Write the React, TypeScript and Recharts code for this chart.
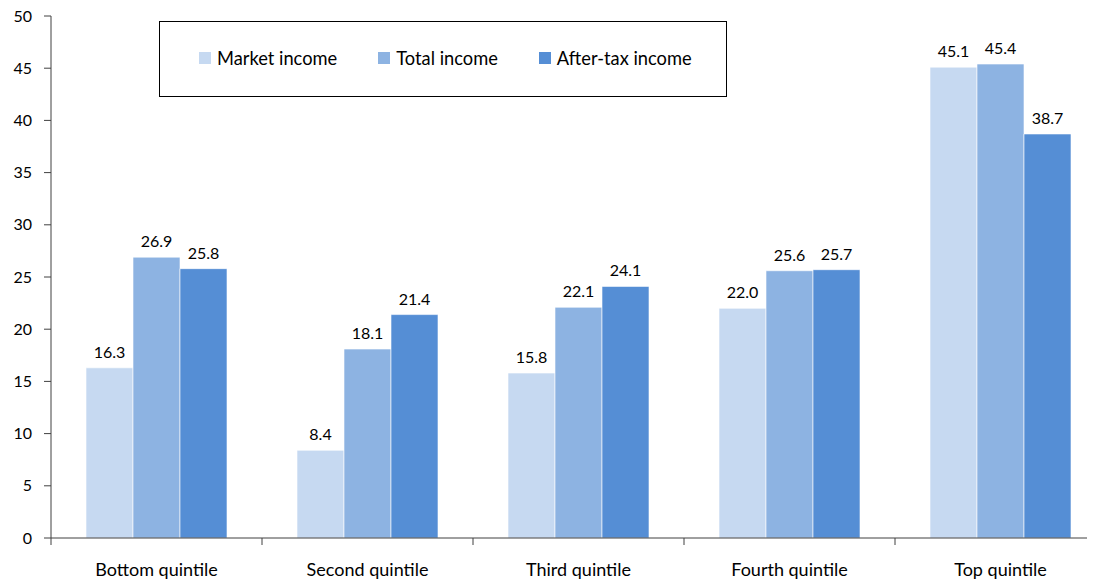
import React from "react";
import { BarChart, Bar, XAxis, YAxis, Legend, LabelList } from "recharts";

// Income shares by quintile (percent)
const quintiles = ["Bottom quintile", "Second quintile", "Third quintile", "Fourth quintile", "Top quintile"];
const marketIncome = [16.3, 8.4, 15.8, 22.0, 45.1];
const totalIncome = [26.9, 18.1, 22.1, 25.6, 45.4];
const afterTaxIncome = [25.8, 21.4, 24.1, 25.7, 38.7];
const yTicks = [0, 5, 10, 15, 20, 25, 30, 35, 40, 45, 50];

const seriesNames = ["Market income", "Total income", "After-tax income"];
const seriesColors = ["#C6D9F1", "#8DB3E2", "#558ED5"];

const data = quintiles.map((q, i) => ({
  quintile: q,
  market: marketIncome[i],
  total: totalIncome[i],
  afterTax: afterTaxIncome[i],
}));

const FONT = "Lato, 'Noto Sans', sans-serif";
const CHART_W = 1100;
const CHART_H = 581;
const MARGIN = { top: 16, right: 2, left: 0, bottom: 0 };
const Y_AXIS_W = 43;
const X_AXIS_H = 43;
const PLOT_LEFT = MARGIN.left + Y_AXIS_W;
const PLOT_RIGHT = CHART_W - MARGIN.right;
const PLOT_BOTTOM = CHART_H - MARGIN.bottom - X_AXIS_H;
const BAND = (PLOT_RIGHT - PLOT_LEFT) / quintiles.length;
const AXIS_COLOR = "#404040";

// Category label at the band centre, with tick marks at the band boundaries
const CategoryTick = (props: any) => {
  const { x, payload, index } = props;
  const left = x - BAND / 2;
  const right = x + BAND / 2;
  return (
    <g>
      <line x1={left} y1={PLOT_BOTTOM} x2={left} y2={PLOT_BOTTOM + 7} stroke={AXIS_COLOR} strokeWidth={1} />
      {index === quintiles.length - 1 && (
        <line x1={right} y1={PLOT_BOTTOM} x2={right} y2={PLOT_BOTTOM + 7} stroke={AXIS_COLOR} strokeWidth={1} />
      )}
      <text x={x} y={PLOT_BOTTOM + 38} textAnchor="middle" fill="#000" fontSize={18} fontFamily={FONT}>
        {payload.value}
      </text>
    </g>
  );
};

const LegendBox = () => (
  <div
    style={{
      boxSizing: "border-box",
      width: 568,
      height: 76,
      border: "1px solid #000",
      background: "#fff",
      display: "flex",
      alignItems: "center",
      paddingLeft: 39,
      paddingBottom: 2,
      fontFamily: FONT,
      fontSize: 18.3,
      color: "#000",
      whiteSpace: "nowrap",
    }}
  >
    {seriesNames.map((name, i) => (
      <div key={name} style={{ display: "flex", alignItems: "center", marginRight: 41 }}>
        <span style={{ display: "inline-block", width: 12, height: 12, background: seriesColors[i], marginRight: 6 }} />
        <span>{name}</span>
      </div>
    ))}
  </div>
);

const labelStyle = { fontSize: 16, fontFamily: FONT, fill: "#000" };
const fmt = (v: any) => Number(v).toFixed(1);

export default function App() {
  return (
    <div style={{ width: 1087, height: CHART_H, marginTop: -8, overflow: "hidden", position: "relative" }}>
      <BarChart
        width={CHART_W}
        height={CHART_H}
        data={data}
        margin={MARGIN}
        barGap={0}
        barCategoryGap={35}
      >
        <XAxis
          dataKey="quintile"
          height={X_AXIS_H}
          tickLine={false}
          axisLine={{ stroke: AXIS_COLOR, strokeWidth: 1 }}
          tick={<CategoryTick />}
          interval={0}
        />
        <YAxis
          width={Y_AXIS_W}
          domain={[0, 50]}
          ticks={yTicks}
          interval={0}
          tickSize={7}
          tickMargin={12}
          axisLine={{ stroke: AXIS_COLOR, strokeWidth: 1 }}
          tickLine={{ stroke: AXIS_COLOR, strokeWidth: 1 }}
          tick={{ fontSize: 16, fontFamily: FONT, fill: "#000" }}
        />
        <Legend
          layout="horizontal"
          align="center"
          verticalAlign="middle"
          wrapperStyle={{ left: 151, top: 21, width: 568, height: 76 }}
          content={<LegendBox />}
        />
        <Bar dataKey="market" name={seriesNames[0]} fill={seriesColors[0]} stroke="#ffffff" strokeWidth={0.6} isAnimationActive={false}>
          <LabelList dataKey="market" position="top" offset={10} formatter={fmt} style={labelStyle} />
        </Bar>
        <Bar dataKey="total" name={seriesNames[1]} fill={seriesColors[1]} stroke="#ffffff" strokeWidth={0.6} isAnimationActive={false}>
          <LabelList dataKey="total" position="top" offset={10} formatter={fmt} style={labelStyle} />
        </Bar>
        <Bar dataKey="afterTax" name={seriesNames[2]} fill={seriesColors[2]} stroke="#ffffff" strokeWidth={0.6} isAnimationActive={false}>
          <LabelList dataKey="afterTax" position="top" offset={10} formatter={fmt} style={labelStyle} />
        </Bar>
      </BarChart>
    </div>
  );
}
